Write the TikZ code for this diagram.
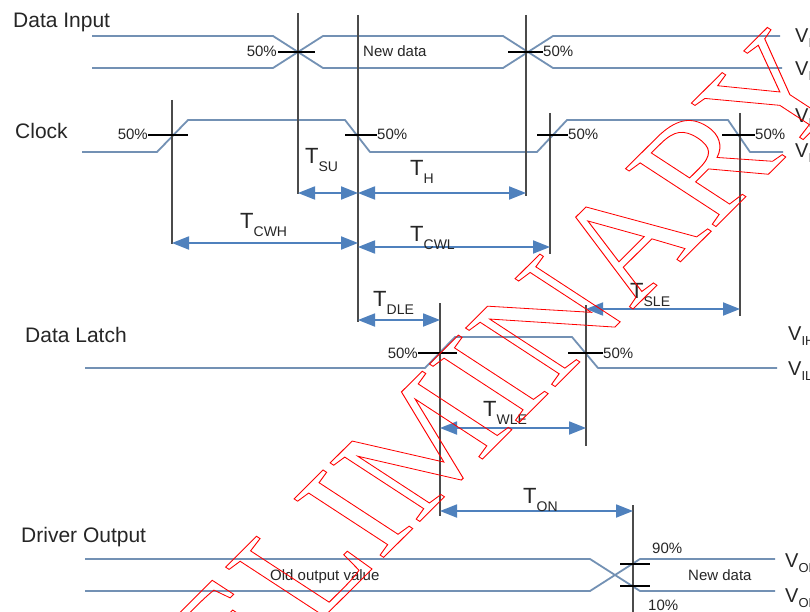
\documentclass[tikz,border=0pt]{standalone}
\usepackage{fontspec}
\setmainfont{Liberation Sans}
\newfontfamily\wmfont{Liberation Serif}
\usetikzlibrary{arrows.meta}
\definecolor{sig}{RGB}{115,145,180}
\definecolor{dimc}{RGB}{79,129,189}
\definecolor{vline}{RGB}{75,75,75}
\newcommand{\Tsub}[1]{T\raisebox{-8pt}{\fontsize{14}{14}\selectfont #1}}
\newcommand{\outlinetext}[1]{\special{pdf:literal direct 1 Tr 0.8 w 1 0 0 RG}#1\special{pdf:literal direct 0 Tr}}
\tikzset{
  sigline/.style={draw=sig, line width=1.8pt, line join=round},
  vert/.style={draw=vline, line width=2pt},
  tickline/.style={draw=black, line width=1.4pt},
  dimarrow/.style={draw=dimc, line width=1.8pt, {Triangle[length=17pt,width=13pt]}-{Triangle[length=17pt,width=13pt]}},
  lbl/.style={font=\fontsize{21}{21}\selectfont, inner sep=0pt, anchor=base west, text=black!85},
  small/.style={font=\fontsize{15}{15}\selectfont, inner sep=0pt, text=black!85},
  tlab/.style={font=\fontsize{22}{22}\selectfont, inner sep=0pt, anchor=base west, text=black!85},
  vlab/.style={font=\fontsize{20}{20}\selectfont, inner sep=0pt, anchor=base west, text=black!85},
}
\begin{document}
\begin{tikzpicture}[x=1pt,y=-1pt]
\useasboundingbox (0,0) rectangle (810,612);
\fill[white] (0,0) rectangle (810,612);

% signal names
\node[lbl] (lDI) at (13,28) {Data Input};
\node[lbl] (lCK) at (15,139) {Clock};
\node[lbl] (lDL) at (25,342) {Data Latch};
\node[lbl] (lDO) at (21,542) {Driver Output};

% waveforms
\draw[sigline] (92,36) -- (273,36) -- (323,68) -- (503,68) -- (553,36) -- (780,36);
\draw[sigline] (92,68) -- (273,68) -- (323,36) -- (503,36) -- (553,68) -- (782,68);
\draw[sigline] (82,152) -- (157,152) -- (188,120) -- (345,120) -- (370,152) -- (537,152) -- (567,120) -- (728,120) -- (750,152) -- (783,152);
\draw[sigline] (85,368) -- (425,368) -- (455,337) -- (572,337) -- (598,368) -- (777,368);
\draw[sigline] (85,559) -- (590,559) -- (640,591) -- (775,591);
\draw[sigline] (85,591) -- (590,591) -- (640,559) -- (775,559);

% level labels (cut by the right edge)
\node[vlab] (vdi1) at (795,43) {V\raisebox{-5pt}{\fontsize{13}{13}\selectfont IH}};
\node[vlab] (vdi2) at (795,76) {V\raisebox{-5pt}{\fontsize{13}{13}\selectfont IL}};
\node[vlab] (vck1) at (795,123) {V\raisebox{-5pt}{\fontsize{13}{13}\selectfont IH}};
\node[vlab] (vck2) at (795,158) {V\raisebox{-5pt}{\fontsize{13}{13}\selectfont IL}};
\node[vlab] (vdl1) at (788,340) {V\raisebox{-5pt}{\fontsize{13}{13}\selectfont IH}};
\node[vlab] (vdl2) at (788,375) {V\raisebox{-5pt}{\fontsize{13}{13}\selectfont IL}};
\node[vlab] (vdo1) at (785,567) {V\raisebox{-5pt}{\fontsize{13}{13}\selectfont OH}};
\node[vlab] (vdo2) at (785,602) {V\raisebox{-5pt}{\fontsize{13}{13}\selectfont OL}};

% texts in waveforms
\node[small, anchor=base west] (nd1) at (363,57) {New data};
\node[small, anchor=base west] (nd2) at (688,580) {New data};
\node[small, anchor=base west] (old) at (270,580) {Old output value};

% vertical reference lines
\coordinate (a1) at (298,13);  \coordinate (a2) at (298,194);
\coordinate (b1) at (358,15);  \coordinate (b2) at (358,322);
\coordinate (c1) at (526,15);  \coordinate (c2) at (526,196);
\coordinate (d1) at (172,100); \coordinate (d2) at (172,244);
\coordinate (e1) at (550,113); \coordinate (e2) at (550,254);
\coordinate (f1) at (740,113); \coordinate (f2) at (740,316);
\coordinate (g1) at (440,303); \coordinate (g2) at (440,516);
\coordinate (h1) at (586,305); \coordinate (h2) at (586,446);
\coordinate (k1) at (633,505); \coordinate (k2) at (633,612);
\foreach \p in {a,b,c,d,e,f,g,h,k} \draw[vert] (\p1) -- (\p2);

% 50% ticks
\draw[tickline] (278,52) -- (315,52);
\draw[tickline] (508,52) -- (543,52);
\draw[tickline] (148,135) -- (188,135);
\draw[tickline] (345,135) -- (377,135);
\draw[tickline] (537,135) -- (568,135);
\draw[tickline] (722,135) -- (755,135);
\draw[tickline] (418,353) -- (457,353);
\draw[tickline] (568,353) -- (603,353);
\draw[tickline] (620,564) -- (650,564);
\draw[tickline] (620,586) -- (650,586);

\node[small, anchor=base east] (p1) at (277,57) {50\%};
\node[small, anchor=base west] (p2) at (543,57) {50\%};
\node[small, anchor=base east] (p3) at (148,140) {50\%};
\node[small, anchor=base west] (p4) at (377,140) {50\%};
\node[small, anchor=base west] (p5) at (568,140) {50\%};
\node[small, anchor=base west] (p6) at (755,140) {50\%};
\node[small, anchor=base east] (p7) at (418,358) {50\%};
\node[small, anchor=base west] (p8) at (603,358) {50\%};
\node[small, anchor=base west] (p9) at (652,553) {90\%};
\node[small, anchor=base west] (p10) at (648,610) {10\%};

% timing dimensions
\coordinate (su1) at (298,193); \coordinate (su2) at (358,193);
\coordinate (h1a) at (358,193); \coordinate (h2a) at (526,193);
\coordinate (cwh1) at (172,243); \coordinate (cwh2) at (358,243);
\coordinate (cwl1) at (358,247); \coordinate (cwl2) at (550,247);
\coordinate (dle1) at (358,320); \coordinate (dle2) at (440,320);
\coordinate (sle1) at (586,309); \coordinate (sle2) at (740,309);
\coordinate (wle1) at (440,428); \coordinate (wle2) at (586,428);
\coordinate (on1) at (440,511); \coordinate (on2) at (633,511);
\draw[dimarrow] (su1) -- (su2);
\draw[dimarrow] (h1a) -- (h2a);
\draw[dimarrow] (cwh1) -- (cwh2);
\draw[dimarrow] (cwl1) -- (cwl2);
\draw[dimarrow] (dle1) -- (dle2);
\draw[dimarrow] (sle1) -- (sle2);
\draw[dimarrow] (wle1) -- (wle2);
\draw[dimarrow] (on1) -- (on2);

\node[tlab] (tsu) at (305,164) {\Tsub{SU}};
\node[tlab] (th) at (410,176) {\Tsub{H}};
\node[tlab] (tcwh) at (240,229) {\Tsub{CWH}};
\node[tlab] (tcwl) at (410,241) {\Tsub{CWL}};
\node[tlab] (tdle) at (373,306) {\Tsub{DLE}};
\node[tlab] (tsle) at (630,298) {\Tsub{SLE}};
\node[tlab] (twle) at (483,416) {\Tsub{WLE}};
\node[tlab] (ton) at (523,503) {\Tsub{ON}};

% watermark (rotated, then stretched horizontally)
\begin{scope}[shift={(860,83)}, xscale=1.24]
\node[rotate=51, transform shape, anchor=base east, inner sep=0pt, text=red, font=\wmfont\fontsize{142}{142}\selectfont] (wm) at (0,0)
  {\outlinetext{PRELIMINARY}};
\end{scope}
\end{tikzpicture}
\end{document}
